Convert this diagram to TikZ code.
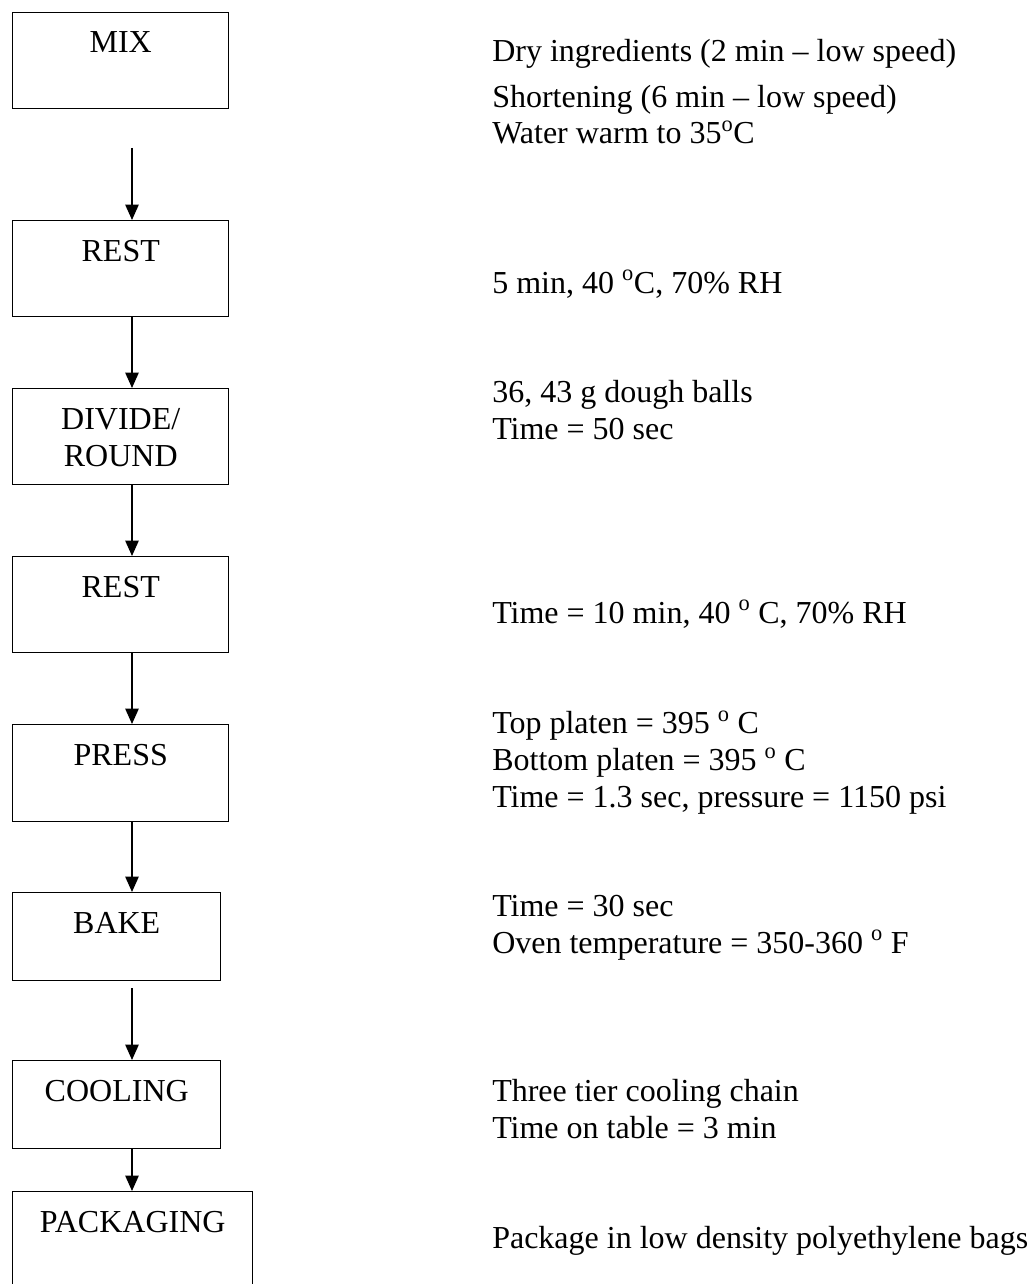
\documentclass[tikz,border=0pt]{standalone}
\usepackage{fontspec}
\setmainfont{Liberation Serif}
\usetikzlibrary{arrows.meta,positioning,calc}

\tikzset{
  stepbox/.style={draw,line width=1.1pt,anchor=north west,inner sep=0pt,
    minimum width=162pt,minimum height=72pt},
  steptxt/.style={anchor=base,inner sep=0pt,align=center,
    font=\fontsize{24}{27.75}\selectfont},
  note/.style={anchor=base west,inner sep=0pt,align=left,
    font=\fontsize{24}{27.5}\selectfont},
  flow/.style={-{Triangle[width=10pt,length=11.5pt]},line width=1.1pt}
}

\begin{document}
\begin{tikzpicture}[x=0.75pt,y=-0.75pt]
  \clip (0,0) rectangle (1031,1284);

  % process steps
  \node[stepbox] (mix) at (12,12) {};
  \node[stepbox] (rest1) at (12,220) {};
  \node[stepbox] (divide) at (12,388) {};
  \node[stepbox] (rest2) at (12,556) {};
  \node[stepbox,minimum height=72.75pt] (press) at (12,724) {};
  \node[stepbox,minimum width=156pt,minimum height=66pt] (bake) at (12,892) {};
  \node[stepbox,minimum width=156pt,minimum height=66pt] (cool) at (12,1060) {};
  \node[stepbox,minimum width=180pt,minimum height=90pt] (pack) at (12,1191) {};

  \foreach \s/\t in {mix/MIX, rest1/REST, rest2/REST, press/PRESS,
                     bake/BAKE, cool/COOLING, pack/PACKAGING} {
    \node[steptxt] (\s txt) at ([yshift=-30.75pt]\s.north) {\t};
  }
  \node[steptxt] (dividetxt) at ([yshift=-58.5pt]divide.north) {DIVIDE/\\ROUND};

  % connectors
  \coordinate (spine) at (132,0);
  \coordinate (mixout) at (132,148);
  \coordinate (bakeout) at (132,988);
  \draw[flow] (mixout) -- (rest1.north -| spine);
  \draw[flow] (rest1.south -| spine) -- (divide.north -| spine);
  \draw[flow] (divide.south -| spine) -- (rest2.north -| spine);
  \draw[flow] (rest2.south -| spine) -- (press.north -| spine);
  \draw[flow] (press.south -| spine) -- (bake.north -| spine);
  \draw[flow] (bakeout) -- (cool.north -| spine);
  \draw[flow] (cool.south -| spine) -- (pack.north -| spine);

  % conditions (anchored at the last line)
  \node[note] (mixnote) at (492,144) {Dry ingredients (2 min -- low speed)\\[6.75pt]
    Shortening (6 min -- low speed)\\ Water warm to 35\textsuperscript{o}C};
  \node[note] (rest1note) at (492,293) {5 min, 40 \textsuperscript{o}C, 70\% RH};
  \node[note] (dividenote) at (492,439) {36, 43 g dough balls\\ Time = 50 sec};
  \node[note] (rest2note) at (492,623) {Time = 10 min, 40 \textsuperscript{o} C, 70\% RH};
  \node[note] (pressnote) at (492,807) {Top platen = 395 \textsuperscript{o} C\\
    Bottom platen = 395 \textsuperscript{o} C\\ Time = 1.3 sec, pressure = 1150 psi};
  \node[note] (bakenote) at (492,953) {Time = 30 sec\\
    Oven temperature = 350-360 \textsuperscript{o} F};
  \node[note] (coolnote) at (492,1138) {Three tier cooling chain\\ Time on table = 3 min};
  \node[note] (packnote) at (492,1248) {Package in low density polyethylene bags};
\end{tikzpicture}
\end{document}
